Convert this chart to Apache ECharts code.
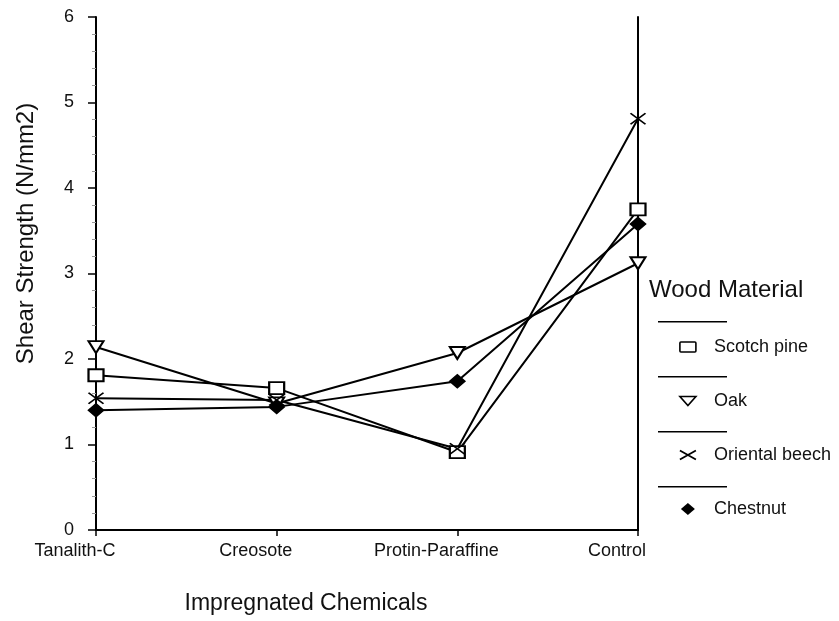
<!DOCTYPE html>
<html>
<head>
<meta charset="utf-8">
<script src="https://cdn.jsdelivr.net/npm/echarts@6/dist/echarts.min.js"></script>
<style>
html,body{margin:0;padding:0;background:#fff;}
#chart{width:839px;height:621px;}
</style>
</head>
<body>
<div id="chart"></div>
<script>
const categories = ['Tanalith-C', 'Creosote', 'Protin-Paraffine', 'Control'];
const seriesNames = ['Scotch pine', 'Oak', 'Oriental beech', 'Chestnut'];
const scotchPine = [1.81, 1.66, 0.91, 3.75];
const oak = [2.14, 1.48, 2.07, 3.12];
const orientalBeech = [1.54, 1.52, 0.95, 4.81];
const chestnut = [1.40, 1.44, 1.74, 3.58];
const yMin = 0, yMax = 6, yStep = 1;

const FONT = 'Liberation Sans, Arial, sans-serif';
const INK = '#111';

const chart = echarts.init(document.getElementById('chart'), null, {renderer: 'canvas'});

const lineBase = {
  type: 'line',
  lineStyle: {color: '#000', width: 2},
  itemStyle: {color: '#000', borderColor: '#000', borderWidth: 1.6},
  emphasis: {disabled: true},
  z: 3
};

const option = {
  animation: false,
  backgroundColor: '#fff',
  textStyle: {fontFamily: FONT, color: INK},
  title: {
    text: 'Wood Material',
    left: 649, top: 278,
    padding: 0,
    textStyle: {fontFamily: FONT, fontSize: 24, fontWeight: 'normal', color: INK}
  },
  grid: {left: 96, right: 201, top: 17, bottom: 91, containLabel: false},
  legend: [
    {
      orient: 'vertical',
      left: 679, top: 329,
      padding: 0,
      itemWidth: 16, itemHeight: 12,
      itemGap: 18,
      selectedMode: false,
      textStyle: {fontFamily: FONT, fontSize: 18, color: INK, lineHeight: 20, padding: [16, 0, 0, 13]},
      data: [
        {name: 'Scotch pine', icon: 'path://M1,0 L15,0 Q16,0 16,1 L16,9 Q16,10 15,10 L1,10 Q0,10 0,9 L0,1 Q0,0 1,0 Z',
          itemStyle: {color: '#fff', borderColor: '#000', borderWidth: 1.6}},
        {name: 'Oak', icon: 'path://M0,0 L16,0 L8,9 Z',
          itemStyle: {color: '#fff', borderColor: '#000', borderWidth: 1.6}},
        {name: 'Oriental beech', icon: 'path://M0,0 L16,9 M16,0 L0,9',
          itemStyle: {color: '#000', borderColor: '#000', borderWidth: 1.8}},
        {name: 'Chestnut', icon: 'path://M7,0 L14,6 L7,12 L0,6 Z',
          itemStyle: {color: '#000', borderColor: '#000', borderWidth: 0}}
      ]
    },
    {
      orient: 'vertical',
      left: 658, top: 321,
      padding: 0,
      itemWidth: 69, itemHeight: 1.6,
      itemGap: 53.4,
      selectedMode: false,
      formatter: function () { return ''; },
      textStyle: {fontSize: 1, lineHeight: 1},
      data: seriesNames.map(n => ({name: n, icon: 'rect', itemStyle: {color: '#000', borderWidth: 0}}))
    }
  ],
  xAxis: {
    type: 'category',
    data: categories,
    boundaryGap: false,
    name: 'Impregnated Chemicals',
    nameLocation: 'middle',
    nameGap: 62,
    nameTextStyle: {fontFamily: FONT, fontSize: 23, color: INK, padding: [0, 122, 0, 0]},
    axisLine: {lineStyle: {color: '#000', width: 2}},
    axisTick: {show: true, inside: false, length: 6, alignWithLabel: true, lineStyle: {color: '#000', width: 1.5}},
    axisLabel: {fontFamily: FONT, fontSize: 18, color: INK, margin: 12, padding: [0, 42, 0, 0]},
    splitLine: {show: false}
  },
  yAxis: [
    {
      type: 'value',
      min: yMin, max: yMax, interval: yStep,
      name: 'Shear Strength (N/mm2)',
      nameLocation: 'middle',
      nameRotate: 90,
      nameGap: 58,
      nameTextStyle: {fontFamily: FONT, fontSize: 24, color: INK, padding: [0, 0, 0, 80]},
      axisLine: {show: true, lineStyle: {color: '#000', width: 2}},
      axisTick: {show: true, inside: false, length: 8, lineStyle: {color: '#000', width: 1.5}},
      minorTick: {show: true, splitNumber: 5, length: 4, lineStyle: {color: '#999', width: 1}},
      axisLabel: {fontFamily: FONT, fontSize: 18, color: INK, margin: 22},
      splitLine: {show: false}
    },
    {
      type: 'value',
      position: 'right',
      min: yMin, max: yMax, interval: yStep,
      axisLine: {show: true, lineStyle: {color: '#000', width: 2}},
      axisTick: {show: false},
      axisLabel: {show: false},
      splitLine: {show: false}
    }
  ],
  series: [
    Object.assign({}, lineBase, {
      name: seriesNames[0], data: scotchPine,
      symbol: 'emptyRect', symbolSize: [15, 12]
    }),
    Object.assign({}, lineBase, {
      name: seriesNames[1], data: oak,
      symbol: 'emptyTriangle', symbolRotate: 180, symbolSize: [15, 12]
    }),
    Object.assign({}, lineBase, {
      name: seriesNames[2], data: orientalBeech,
      symbol: 'path://M0,0 L10,10 M10,0 L0,10', symbolSize: [15, 11]
    }),
    Object.assign({}, lineBase, {
      name: seriesNames[3], data: chestnut,
      symbol: 'diamond', symbolSize: [15, 13]
    })
  ]
};

chart.setOption(option);
</script>
</body>
</html>
